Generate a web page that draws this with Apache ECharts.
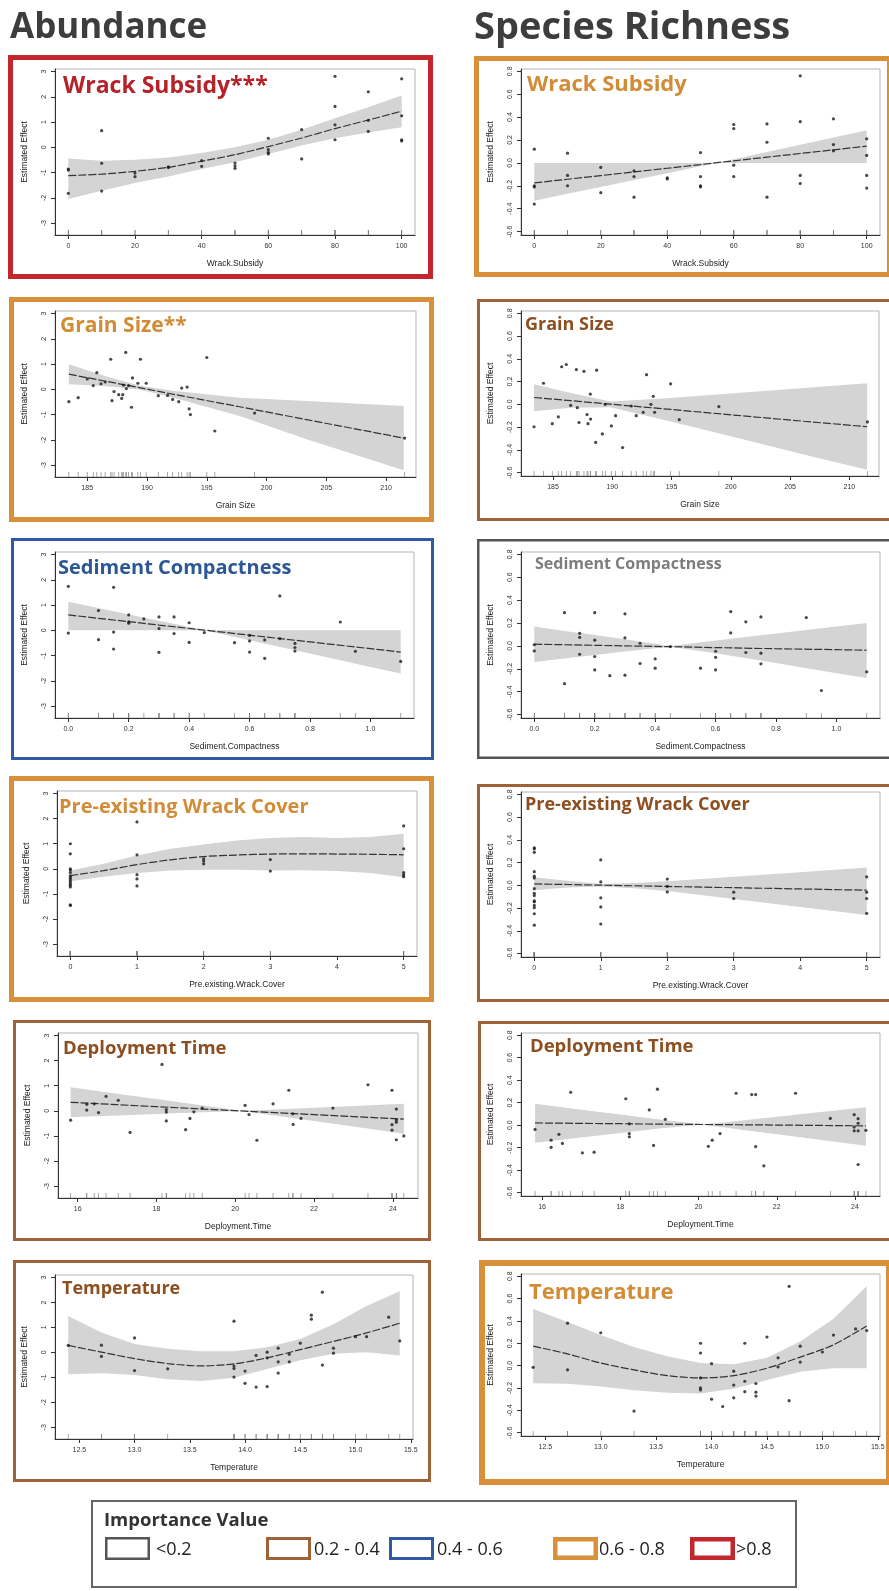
<!DOCTYPE html>
<html><head><meta charset="utf-8">
<script src="https://cdn.jsdelivr.net/npm/echarts@6/dist/echarts.min.js"></script>
<style>html,body{margin:0;padding:0;background:#fff}#c{width:889px;height:1591px}</style>
</head><body><div id="c"></div>
<script>
// ---------------- tick labels ----------------
const ticksAb = [-3, -2, -1, 0, 1, 2, 3];
const ticksSr = [-0.6, -0.4, -0.2, 0, 0.2, 0.4, 0.6, 0.8];
const ticksWrack = [0, 20, 40, 60, 80, 100];
const ticksGrain = [185, 190, 195, 200, 205, 210];
const ticksSed = [0, 0.2, 0.4, 0.6, 0.8, 1.0];
const ticksPre = [0, 1, 2, 3, 4, 5];
const ticksDep = [16, 18, 20, 22, 24];
const ticksTemp = [12.5, 13.0, 13.5, 14.0, 14.5, 15.0, 15.5];

// ---------------- Abundance: Wrack Subsidy ----------------
const ab_ws_x = [0,0,0,10,10,10,20,20,30,30,40,40,50,50,50,60,60,60,60,70,70,80,80,80,80,90,90,90,100,100,100,100];
const ab_ws_y = [-0.86,-0.9,-1.82,0.66,-0.63,-1.73,-1.02,-1.16,-0.77,-0.8,-0.53,-0.75,-0.62,-0.73,-0.83,0.36,-0.09,-0.2,-0.26,0.7,-0.46,2.81,1.62,0.89,0.3,2.2,1.07,0.63,2.71,1.25,0.3,0.25];
const ab_ws_cx = [0,10,20,30,40,50,60,70,80,90,100];
const ab_ws_fit = [-1.12,-1.06,-0.95,-0.79,-0.55,-0.29,0.03,0.37,0.74,1.08,1.43];
const ab_ws_lo = [-2.05,-1.72,-1.41,-1.15,-0.86,-0.59,-0.26,0.07,0.36,0.59,0.79];
const ab_ws_hi = [-0.44,-0.53,-0.49,-0.4,-0.22,0.0,0.3,0.7,1.15,1.59,2.05];

// ---------------- Species Richness: Wrack Subsidy ----------------
const sr_ws_x = [0,0,0,0,10,10,10,20,20,30,30,30,40,40,50,50,50,50,60,60,60,60,70,70,70,80,80,80,80,90,90,90,100,100,100,100];
const sr_ws_y = [0.12,-0.2,-0.21,-0.36,0.085,-0.11,-0.2,-0.04,-0.26,-0.07,-0.12,-0.3,-0.14,-0.13,0.09,-0.12,-0.2,-0.21,0.335,0.3,-0.02,-0.12,0.34,0.18,-0.3,0.76,0.36,-0.11,-0.18,0.385,0.16,0.105,0.21,0.065,-0.11,-0.22];
const sr_ws_cx = [0,10,20,30,40,50,55,60,70,80,90,100];
const sr_ws_fit = [-0.175,-0.143,-0.111,-0.079,-0.047,-0.015,0.002,0.018,0.05,0.082,0.114,0.146];
const sr_ws_lo = [-0.33,-0.27,-0.21,-0.15,-0.09,-0.03,0.0,0,0,0,0,0];
const sr_ws_hi = [0,0,0,0,0,0,0.002,0.032,0.095,0.159,0.222,0.286];

// ---------------- Abundance: Grain Size ----------------
const ab_gs_x = [183.46,184.24,185.0,185.5,185.8,186.15,186.5,186.96,187.07,187.24,187.63,187.88,187.97,188.02,188.22,188.27,188.45,188.7,188.78,189.23,189.45,189.93,190.94,191.72,192.14,192.65,192.9,193.35,193.52,193.63,195.0,195.67,199.0,211.55];
const ab_gs_y = [-0.49,-0.33,0.41,0.15,0.66,0.22,0.29,1.19,-0.45,-0.09,-0.21,-0.36,-0.21,0.17,1.46,0.03,0.15,-0.71,0.45,0.24,1.19,0.24,-0.25,-0.24,-0.4,-0.49,0.05,0.09,-0.77,-1.0,1.26,-1.65,-0.94,-1.93];
const ab_gs_cx = [183.46,186.54,189.34,192.14,197.75,203.35,211.47];
const ab_gs_fit = [0.6,0.32,0.07,-0.19,-0.69,-1.2,-1.93];
const ab_gs_lo = [0.2,0.12,-0.01,-0.32,-1.06,-1.98,-3.2];
const ab_gs_hi = [0.99,0.52,0.15,-0.06,-0.33,-0.46,-0.66];

// ---------------- Species Richness: Grain Size ----------------
const sr_gs_x = [183.4,184.2,184.94,185.45,185.73,186.12,186.49,186.97,187.05,187.19,187.61,187.87,187.95,188.15,188.17,188.6,188.68,189.16,189.41,189.92,190.28,190.87,191.6,192.02,192.61,192.89,193.26,193.46,193.57,194.92,195.65,198.99,211.52];
const sr_gs_y = [-0.197,0.185,-0.17,-0.11,0.33,0.35,-0.01,0.305,-0.03,-0.16,0.29,-0.09,-0.17,0.09,-0.13,-0.335,0.3,-0.26,0.0,-0.19,-0.1,-0.38,-0.015,-0.1,-0.07,0.26,0.0,0.07,-0.07,0.18,-0.135,-0.02,-0.155];
const sr_gs_cx = [183.4,186.5,189.86,194.92,200.5,206.15,211.5];
const sr_gs_fit = [0.06,0.032,0.001,-0.045,-0.097,-0.149,-0.197];
const sr_gs_lo = [-0.06,-0.03,-0.025,-0.15,-0.294,-0.44,-0.574];
const sr_gs_hi = [0.176,0.1,0.025,0.056,0.1,0.144,0.185];

// ---------------- Abundance: Sediment Compactness ----------------
const ab_sc_x = [0,0,0.1,0.1,0.15,0.15,0.15,0.2,0.2,0.2,0.25,0.3,0.3,0.3,0.35,0.35,0.4,0.4,0.45,0.55,0.6,0.6,0.6,0.65,0.65,0.7,0.7,0.75,0.75,0.75,0.9,0.95,1.1];
const ab_sc_y = [1.74,-0.11,0.78,-0.37,1.7,-0.07,-0.74,0.61,0.34,0.28,0.45,0.53,0.07,-0.87,0.53,-0.13,0.3,-0.48,-0.09,-0.49,-0.2,-0.42,-0.86,-0.38,-1.11,1.36,-0.33,-0.52,-0.68,-0.82,0.33,-0.83,-1.23];
const ab_sc_cx = [0,0.1,0.2,0.3,0.45,0.6,0.8,1.0,1.1];
const ab_sc_fit = [0.61,0.476,0.343,0.209,0.009,-0.192,-0.459,-0.726,-0.86];
const ab_sc_lo = [0,0,0,0,0,-0.39,-0.92,-1.45,-1.71];
const ab_sc_hi = [1.13,0.88,0.63,0.38,0.01,0,0,0,0];

// ---------------- Species Richness: Sediment Compactness ----------------
const sr_sc_x = [0,0,0.1,0.1,0.15,0.15,0.15,0.2,0.2,0.2,0.2,0.25,0.3,0.3,0.3,0.35,0.35,0.4,0.4,0.45,0.55,0.6,0.6,0.6,0.65,0.65,0.7,0.7,0.75,0.75,0.75,0.9,0.95,1.1];
const sr_sc_y = [0.01,-0.044,0.29,-0.33,0.11,0.075,-0.073,0.29,0.05,-0.093,-0.21,-0.26,0.28,0.07,-0.256,0.023,-0.154,-0.113,-0.195,-0.006,-0.195,-0.047,-0.1,-0.21,0.3,0.113,0.21,-0.058,0.253,-0.064,-0.157,0.247,-0.39,-0.227];
const sr_sc_cx = [0,0.1,0.2,0.3,0.45,0.6,0.8,1.0,1.1];
const sr_sc_fit = [0.015,0.01,0.005,0.0,-0.007,-0.015,-0.025,-0.033,-0.038];
const sr_sc_lo = [-0.14,-0.11,-0.08,-0.05,-0.007,-0.065,-0.15,-0.24,-0.28];
const sr_sc_hi = [0.17,0.13,0.095,0.057,0.0,0.046,0.108,0.17,0.2];

// ---------------- Abundance: Pre-existing Wrack Cover ----------------
const ab_pw_x = [0,0,0,0,0,0,0,0,0,0,0,0,0,0,1,1,1,1,1,2,2,2,3,3,5,5,5,5,5];
const ab_pw_y = [1.0,0.6,0.0,-0.05,-0.15,-0.28,-0.35,-0.42,-0.5,-0.58,-0.65,-0.72,-1.43,-1.46,1.87,0.56,-0.23,-0.4,-0.68,0.4,0.31,0.2,0.37,-0.09,1.71,0.8,-0.15,-0.24,-0.31];
const ab_pw_cx = [0,0.5,1,1.5,2,2.5,3,3.5,4,4.5,5];
const ab_pw_fit = [-0.27,-0.07,0.17,0.36,0.49,0.55,0.59,0.6,0.59,0.58,0.56];
const ab_pw_lo = [-0.49,-0.31,-0.17,-0.07,-0.04,-0.04,-0.07,-0.06,-0.09,-0.17,-0.33];
const ab_pw_hi = [-0.07,0.2,0.53,0.8,0.97,1.13,1.23,1.27,1.23,1.27,1.4];

// ---------------- Species Richness: Pre-existing Wrack Cover ----------------
const sr_pw_x = [0,0,0,0,0,0,0,0,0,0,0,0,0,0,0,1,1,1,1,1,2,2,2,3,3,5,5,5,5];
const sr_pw_y = [0.33,0.32,0.29,0.12,0.08,0.064,-0.03,-0.07,-0.09,-0.136,-0.145,-0.177,-0.197,-0.25,-0.35,0.223,0.03,-0.11,-0.19,-0.34,0.055,-0.01,-0.058,-0.06,-0.116,0.075,-0.06,-0.116,-0.246];
const sr_pw_cx = [0,0.5,1,1.5,2,3,4,5];
const sr_pw_fit = [0.012,0.007,0.001,-0.004,-0.01,-0.021,-0.032,-0.043];
const sr_pw_lo = [-0.043,-0.02,-0.01,-0.025,-0.05,-0.12,-0.19,-0.26];
const sr_pw_hi = [0.07,0.04,0.012,0.02,0.035,0.075,0.115,0.157];

// ---------------- Abundance: Deployment Time ----------------
const ab_dt_x = [15.82,16.23,16.23,16.42,16.53,16.72,17.03,17.33,18.14,18.25,18.25,18.25,18.74,18.85,18.95,19.16,20.25,20.35,20.55,20.96,21.36,21.46,21.47,21.67,22.48,23.37,23.98,23.98,23.98,24.09,24.09,24.09,24.09,24.28];
const ab_dt_y = [-0.37,0.26,0.03,0.28,-0.07,0.58,0.42,-0.86,1.85,0.05,-0.05,-0.4,-0.75,-0.3,-0.04,0.11,0.22,-0.15,-1.17,0.28,0.82,-0.12,-0.54,-0.3,0.11,1.04,0.82,-0.55,-0.77,0.07,-0.36,-0.45,-1.15,-1.0];
const ab_dt_cx = [15.82,17,18,19,20.16,21,22,23,24.28];
const ab_dt_fit = [0.34,0.247,0.167,0.088,-0.004,-0.07,-0.149,-0.229,-0.33];
const ab_dt_lo = [-0.25,-0.182,-0.124,-0.067,-0.004,-0.186,-0.406,-0.627,-0.91];
const ab_dt_hi = [0.94,0.684,0.468,0.251,0.0,0.057,0.125,0.193,0.28];

// ---------------- Species Richness: Deployment Time ----------------
const sr_dt_x = [15.82,16.23,16.23,16.43,16.52,16.73,17.03,17.33,18.14,18.23,18.23,18.23,18.74,18.85,18.95,19.15,20.25,20.35,20.55,20.96,21.36,21.46,21.46,21.67,22.48,23.37,23.98,23.98,23.98,24.08,24.08,24.08,24.08,24.28];
const sr_dt_y = [-0.038,-0.133,-0.197,-0.081,-0.162,0.293,-0.246,-0.24,0.235,0.012,-0.075,-0.104,0.136,-0.18,0.32,0.052,-0.188,-0.133,-0.075,0.284,0.272,0.272,-0.19,-0.362,0.284,0.06,0.093,-0.017,-0.05,0.058,0.017,-0.05,-0.35,-0.046];
const sr_dt_cx = [15.82,17,18,19,20.11,21,22,23,24.28];
const sr_dt_fit = [0.02,0.016,0.013,0.009,0.006,0.004,0.001,-0.002,-0.006];
const sr_dt_lo = [-0.157,-0.11,-0.07,-0.03,0.005,-0.037,-0.08,-0.125,-0.183];
const sr_dt_hi = [0.19,0.138,0.094,0.05,0.006,0.038,0.075,0.113,0.16];

// ---------------- Abundance: Temperature ----------------
const ab_t_x = [12.4,12.7,12.7,13.0,13.0,13.3,13.9,13.9,13.9,13.9,14.0,14.0,14.1,14.1,14.2,14.2,14.2,14.3,14.3,14.3,14.4,14.4,14.5,14.6,14.6,14.7,14.7,14.8,14.8,15.0,15.1,15.3,15.4];
const ab_t_y = [0.28,0.29,-0.16,0.58,-0.73,-0.66,1.25,-0.55,-0.65,-0.99,-0.75,-1.24,-0.12,-1.39,0.01,-0.22,-1.37,0.17,-0.38,-0.83,-0.07,-0.38,0.37,1.49,1.33,2.41,-0.51,0.17,-0.03,0.63,0.63,1.41,0.46];
const ab_t_cx = [12.4,12.7,13.0,13.3,13.6,13.9,14.2,14.5,14.8,15.1,15.4];
const ab_t_fit = [0.28,0.01,-0.25,-0.45,-0.54,-0.46,-0.22,0.11,0.44,0.78,1.17];
const ab_t_lo = [-0.88,-0.84,-0.91,-1.08,-1.15,-1.02,-0.67,-0.32,-0.05,0.01,-0.12];
const ab_t_hi = [1.46,0.8,0.34,0.15,0.05,0.05,0.21,0.54,1.13,1.86,2.45];

// ---------------- Species Richness: Temperature ----------------
const sr_t_x = [12.39,12.7,12.7,13.0,13.3,13.9,13.9,13.9,13.9,13.9,14.0,14.0,14.1,14.2,14.2,14.2,14.3,14.3,14.3,14.4,14.4,14.4,14.5,14.6,14.6,14.7,14.7,14.8,14.8,15.0,15.1,15.3,15.4];
const sr_t_y = [-0.015,0.38,-0.038,0.294,-0.407,0.2,0.113,-0.11,-0.2,-0.218,0.017,-0.3,-0.366,-0.05,-0.174,-0.288,0.2,-0.14,-0.233,-0.16,-0.238,-0.273,0.256,0.07,-0.012,0.71,-0.314,0.174,0.032,0.122,0.273,0.328,0.314];
const sr_t_cx = [12.39,12.7,13.0,13.3,13.6,13.9,14.2,14.5,14.8,15.1,15.4];
const sr_t_fit = [0.174,0.105,0.023,-0.038,-0.09,-0.11,-0.09,-0.023,0.076,0.186,0.355];
const sr_t_lo = [-0.157,-0.163,-0.186,-0.22,-0.244,-0.25,-0.206,-0.128,-0.055,-0.023,-0.023];
const sr_t_hi = [0.506,0.39,0.273,0.166,0.084,0.023,0.012,0.07,0.215,0.419,0.71];

// ---------------- styles / layout ----------------
const BORDER = {red:'#c1272d', orange:'#d8903a', blue:'#2e5aa6', brown:'#9e6236', gray:'#555555'};
const TITLEC = {red:'#b5222a', orange:'#d28b36', blue:'#2b5797', brown:'#8d4e20', gray:'#7d7d7d'};
const AB_R = [-3.47, 3.1];
const SR_R = [-0.63, 0.82];
const FONT = '"Open Sans", "Noto Sans", sans-serif';
const AXF = '"Liberation Sans", Arial, sans-serif';

const panels = [
 {g:[55,69,415,235], xr:[-4,104], yr:AB_R, xt:ticksWrack, yt:ticksAb, dx:0, dy:0, xname:'Wrack.Subsidy', px:ab_ws_x, py:ab_ws_y, cx:ab_ws_cx, fit:ab_ws_fit, lo:ab_ws_lo, hi:ab_ws_hi, smooth:true, title:'Wrack Subsidy***', tc:'red', tx:63, ty:86, ts:23, box:[8,55,433,279], bc:'red', bw:5},
 {g:[521,69,880,235], xr:[-4,104], yr:SR_R, xt:ticksWrack, yt:ticksSr, dx:0, dy:1, xname:'Wrack.Subsidy', px:sr_ws_x, py:sr_ws_y, cx:sr_ws_cx, fit:sr_ws_fit, lo:sr_ws_lo, hi:sr_ws_hi, smooth:false, title:'Wrack Subsidy', tc:'orange', tx:527, ty:85, ts:22, box:[474,56,892,277], bc:'orange', bw:5},
 {g:[55,311,416,477], xr:[182.3,212.5], yr:AB_R, xt:ticksGrain, yt:ticksAb, dx:0, dy:0, xname:'Grain Size', px:ab_gs_x, py:ab_gs_y, cx:ab_gs_cx, fit:ab_gs_fit, lo:ab_gs_lo, hi:ab_gs_hi, smooth:false, title:'Grain Size**', tc:'orange', tx:60, ty:326, ts:21, box:[9,297,434,522], bc:'orange', bw:5},
 {g:[521,311,879,476], xr:[182.3,212.5], yr:SR_R, xt:ticksGrain, yt:ticksSr, dx:0, dy:1, xname:'Grain Size', px:sr_gs_x, py:sr_gs_y, cx:sr_gs_cx, fit:sr_gs_fit, lo:sr_gs_lo, hi:sr_gs_hi, smooth:false, title:'Grain Size', tc:'brown', tx:525, ty:325, ts:18, box:[477,299,892,521], bc:'brown', bw:3},
 {g:[55,552,414,718], xr:[-0.044,1.144], yr:AB_R, xt:ticksSed, yt:ticksAb, dx:1, dy:0, xname:'Sediment.Compactness', px:ab_sc_x, py:ab_sc_y, cx:ab_sc_cx, fit:ab_sc_fit, lo:ab_sc_lo, hi:ab_sc_hi, smooth:false, title:'Sediment Compactness', tc:'blue', tx:58, ty:568, ts:20, box:[11,538,434,760], bc:'blue', bw:3},
 {g:[521,552,880,718], xr:[-0.044,1.144], yr:SR_R, xt:ticksSed, yt:ticksSr, dx:1, dy:1, xname:'Sediment.Compactness', px:sr_sc_x, py:sr_sc_y, cx:sr_sc_cx, fit:sr_sc_fit, lo:sr_sc_lo, hi:sr_sc_hi, smooth:false, title:'Sediment Compactness', tc:'gray', tx:535, ty:564, ts:16, box:[477,539,892,759], bc:'gray', bw:2.5},
 {g:[57,791,417,956], xr:[-0.2,5.2], yr:AB_R, xt:ticksPre, yt:ticksAb, dx:0, dy:0, xname:'Pre.existing.Wrack.Cover', px:ab_pw_x, py:ab_pw_y, cx:ab_pw_cx, fit:ab_pw_fit, lo:ab_pw_lo, hi:ab_pw_hi, smooth:true, title:'Pre-existing Wrack Cover', tc:'orange', tx:59, ty:807, ts:20, box:[9,776,434,1002], bc:'orange', bw:5},
 {g:[521,792,880,957], xr:[-0.2,5.2], yr:SR_R, xt:ticksPre, yt:ticksSr, dx:0, dy:1, xname:'Pre.existing.Wrack.Cover', px:sr_pw_x, py:sr_pw_y, cx:sr_pw_cx, fit:sr_pw_fit, lo:sr_pw_lo, hi:sr_pw_hi, smooth:false, title:'Pre-existing Wrack Cover', tc:'brown', tx:525, ty:805, ts:18, box:[477,784,892,1002], bc:'brown', bw:3},
 {g:[58,1033,418,1198], xr:[15.5,24.64], yr:AB_R, xt:ticksDep, yt:ticksAb, dx:0, dy:0, xname:'Deployment.Time', px:ab_dt_x, py:ab_dt_y, cx:ab_dt_cx, fit:ab_dt_fit, lo:ab_dt_lo, hi:ab_dt_hi, smooth:false, title:'Deployment Time', tc:'brown', tx:63, ty:1049, ts:18.5, box:[13,1020,431,1241], bc:'brown', bw:3},
 {g:[521,1033,880,1196], xr:[15.46,24.64], yr:SR_R, xt:ticksDep, yt:ticksSr, dx:0, dy:1, xname:'Deployment.Time', px:sr_dt_x, py:sr_dt_y, cx:sr_dt_cx, fit:sr_dt_fit, lo:sr_dt_lo, hi:sr_dt_hi, smooth:false, title:'Deployment Time', tc:'brown', tx:530, ty:1047, ts:18.5, box:[478,1021,892,1241], bc:'brown', bw:3},
 {g:[55,1275,413,1439], xr:[12.28,15.52], yr:AB_R, xt:ticksTemp, yt:ticksAb, dx:1, dy:0, xname:'Temperature', px:ab_t_x, py:ab_t_y, cx:ab_t_cx, fit:ab_t_fit, lo:ab_t_lo, hi:ab_t_hi, smooth:true, title:'Temperature', tc:'brown', tx:62, ty:1289, ts:18, box:[13,1260,431,1482], bc:'brown', bw:3},
 {g:[521,1274,880,1436], xr:[12.28,15.52], yr:SR_R, xt:ticksTemp, yt:ticksSr, dx:1, dy:1, xname:'Temperature', px:sr_t_x, py:sr_t_y, cx:sr_t_cx, fit:sr_t_fit, lo:sr_t_lo, hi:sr_t_hi, smooth:true, title:'Temperature', tc:'orange', tx:529, ty:1293, ts:22, box:[479,1260,892,1485], bc:'orange', bw:6}
];

const grid = [], xAxis = [], yAxis = [], series = [], graphic = [];

panels.forEach((p, i) => {
  grid.push({left:p.g[0], top:p.g[1], width:p.g[2]-p.g[0], height:p.g[3]-p.g[1],
    show:true, borderColor:'#b5b5b5', borderWidth:1, backgroundColor:'#fff'});
  xAxis.push({gridIndex:i, type:'value', min:p.xr[0], max:p.xr[1],
    axisLine:{show:true, onZero:false, lineStyle:{color:'#333', width:1}},
    axisTick:{show:true, customValues:p.xt, length:4, lineStyle:{color:'#333'}},
    axisLabel:{customValues:p.xt, fontSize:7, color:'#333', margin:8, fontFamily:AXF,
      formatter: v => Number(v).toFixed(p.dx)},
    splitLine:{show:false},
    name:p.xname, nameLocation:'middle', nameGap:24,
    nameTextStyle:{fontSize:8.5, color:'#222', fontFamily:AXF}});
  yAxis.push({gridIndex:i, type:'value', min:p.yr[0], max:p.yr[1],
    axisLine:{show:true, onZero:false, lineStyle:{color:'#333', width:1}},
    axisTick:{show:true, customValues:p.yt, length:4, lineStyle:{color:'#333'}},
    axisLabel:{customValues:p.yt, fontSize:7, color:'#333', margin:7, rotate:90, fontFamily:AXF,
      formatter: v => Number(v).toFixed(p.dy)},
    splitLine:{show:false},
    name:'Estimated Effect', nameLocation:'middle', nameGap:26,
    nameTextStyle:{fontSize:8.5, color:'#222', fontFamily:AXF}});

  // confidence band as a polygon through the axis scales
  series.push({type:'custom', xAxisIndex:i, yAxisIndex:i, clip:true, silent:true, z:1,
    data:p.cx.map((x,k)=>[x, p.lo[k], p.hi[k]]),
    encode:{x:0, y:[1,2]},
    renderItem:(params, api) => {
      if (params.dataIndex !== 0) return null;
      const up = p.cx.map((x,k)=>api.coord([x, p.hi[k]]));
      const dn = p.cx.map((x,k)=>api.coord([x, p.lo[k]])).reverse();
      return {type:'polygon', shape:{points:up.concat(dn)}, style:{fill:'#d4d4d4', stroke:null}};
    }});
  series.push({type:'line', xAxisIndex:i, yAxisIndex:i,
    data:p.cx.map((x,k)=>[x, p.fit[k]]), symbol:'none', smooth:p.smooth ? 0.3 : false,
    lineStyle:{color:'#333', width:1.2, type:[8,2]}, silent:true, z:3});
  series.push({type:'scatter', xAxisIndex:i, yAxisIndex:i,
    data:p.px.map((x,k)=>[x, p.py[k]]), symbolSize:3.2,
    itemStyle:{color:'#1a1a1a'}, silent:true, z:4});
  series.push({type:'scatter', xAxisIndex:i, yAxisIndex:i, clip:false,
    data:p.px.map(x=>[x, p.yr[0]]), symbol:'rect', symbolSize:[0.8,5], symbolOffset:[0,-2.5],
    itemStyle:{color:'#777'}, silent:true, z:2});

  // panel border
  const b = p.box, w = p.bw;
  graphic.push({type:'rect', silent:true, z:100,
    shape:{x:b[0]+w/2, y:b[1]+w/2, width:b[2]-b[0]-w, height:b[3]-b[1]-w},
    style:{fill:null, stroke:BORDER[p.bc], lineWidth:w}});
  // panel title
  graphic.push({type:'text', silent:true, z:101, x:p.tx, y:p.ty,
    style:{text:p.title, fill:TITLEC[p.tc], font:'bold ' + p.ts + 'px ' + FONT,
      textAlign:'left', textVerticalAlign:'middle'}});
});

// headers
graphic.push({type:'text', silent:true, x:10, y:28,
  style:{text:'Abundance', fill:'#3d3d3d', font:'bold 35px ' + FONT, textAlign:'left', textVerticalAlign:'middle'}});
graphic.push({type:'text', silent:true, x:474, y:28,
  style:{text:'Species Richness', fill:'#3d3d3d', font:'bold 38px ' + FONT, textAlign:'left', textVerticalAlign:'middle'}});

// legend (Importance Value)
const legendItems = [
  {label:'<0.2', c:'gray', w:2.5, rx:105, tx:156},
  {label:'0.2 - 0.4', c:'brown', w:3, rx:266, tx:314},
  {label:'0.4 - 0.6', c:'blue', w:3, rx:389, tx:437},
  {label:'0.6 - 0.8', c:'orange', w:4.5, rx:553, tx:599},
  {label:'>0.8', c:'red', w:4.5, rx:690, tx:736}
];
graphic.push({type:'rect', silent:true, shape:{x:92, y:1501, width:704, height:86},
  style:{fill:'#fff', stroke:'#666', lineWidth:2}});
graphic.push({type:'text', silent:true, x:104, y:1521,
  style:{text:'Importance Value', fill:'#333', font:'bold 18.5px ' + FONT, textAlign:'left', textVerticalAlign:'middle'}});
legendItems.forEach(it => {
  graphic.push({type:'rect', silent:true,
    shape:{x:it.rx + it.w/2, y:1537 + it.w/2, width:45 - it.w, height:23 - it.w},
    style:{fill:'#fff', stroke:BORDER[it.c], lineWidth:it.w}});
  graphic.push({type:'text', silent:true, x:it.tx, y:1550,
    style:{text:it.label, fill:'#222', font:'18px ' + FONT, textAlign:'left', textVerticalAlign:'middle'}});
});

const chart = echarts.init(document.getElementById('c'), null, {renderer:'canvas', width:889, height:1591});
chart.setOption({
  backgroundColor:'#fff',
  animation:false,
  grid, xAxis, yAxis, series, graphic
});
</script></body></html>
